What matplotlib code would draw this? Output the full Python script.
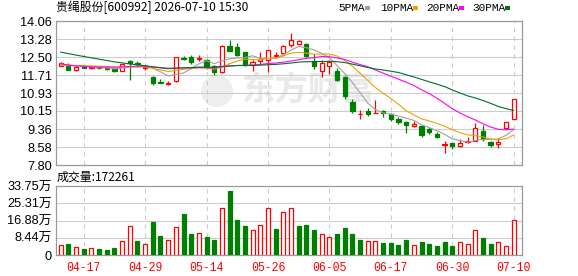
import numpy as np
import pandas as pd
import matplotlib
matplotlib.use('Agg')
import matplotlib.pyplot as plt
from matplotlib.patches import Rectangle, Ellipse

# 数据
title = '贵绳股份[600992] 2026-07-10 15:30'
vol_title = '成交量:172261'

opens = [12.12, 12.15, 11.93, 12.05, 12.02, 12.04, 12.03, 11.98, 11.90, 12.34,
         12.22, 12.03, 11.63, 11.42, 11.33, 11.45, 12.45, 12.48, 12.40, 12.38,
         12.12, 11.83, 12.99, 12.92, 12.70, 12.15, 12.30, 12.35, 12.55, 12.65,
         13.00, 13.04, 13.04, 12.31, 11.90, 12.12, 11.87, 11.63, 10.54, 10.00,
         10.15, 10.05, 10.15, 10.01, 9.82, 9.68, 9.51, 9.50, 9.36, 9.13,
         8.66, 8.77, 8.64, 8.82, 8.84, 9.27, 8.81, 8.70, 9.39, 9.79]
highs = [12.26, 12.22, 12.10, 12.08, 12.08, 12.08, 12.06, 12.00, 12.20, 12.37,
         12.30, 12.10, 11.66, 11.52, 11.45, 12.50, 12.55, 12.58, 12.57, 12.42,
         12.15, 13.00, 13.23, 13.09, 12.72, 12.36, 12.70, 12.80, 12.72, 13.00,
         13.53, 13.25, 13.10, 12.64, 12.35, 12.38, 12.00, 11.65, 10.69, 10.20,
         10.27, 10.62, 10.18, 10.08, 9.90, 9.72, 9.70, 9.56, 9.46, 9.24,
         8.85, 8.78, 8.93, 9.03, 9.63, 9.53, 8.83, 8.96, 9.66, 10.67]
lows = [12.10, 11.92, 11.90, 12.00, 11.98, 11.97, 11.95, 11.86, 11.88, 11.51,
        12.05, 11.95, 11.28, 11.35, 11.27, 11.42, 12.36, 12.20, 12.30, 11.98,
        11.72, 11.80, 12.74, 12.55, 12.12, 11.88, 12.20, 11.86, 12.45, 12.60,
        12.93, 13.00, 12.49, 11.99, 11.63, 11.77, 11.43, 10.69, 10.04, 9.82,
        9.93, 10.04, 9.87, 9.72, 9.60, 9.20, 9.45, 9.03, 9.13, 8.96,
        8.33, 8.48, 8.60, 8.74, 8.84, 8.84, 8.60, 8.52, 9.38, 9.78]
closes = [12.24, 11.95, 12.07, 12.02, 12.04, 12.00, 11.98, 11.88, 12.18, 12.24,
          12.20, 12.06, 11.37, 11.38, 11.36, 12.48, 12.42, 12.28, 12.44, 12.04,
          11.86, 12.99, 12.77, 12.58, 12.15, 12.26, 12.40, 12.78, 12.58, 12.99,
          13.22, 13.19, 12.52, 12.10, 12.23, 12.28, 11.48, 10.79, 10.14, 10.03,
          10.01, 10.08, 10.07, 9.82, 9.68, 9.53, 9.60, 9.10, 9.22, 9.03,
          8.72, 8.62, 8.74, 8.85, 9.39, 8.93, 8.67, 8.81, 9.65, 10.66]
# 成交量(万)
vols = [4.74, 5.38, 3.75, 2.93, 3.26, 2.93, 2.45, 3.42, 6.68, 14.0,
        6.85, 5.21, 16.1, 9.29, 7.17, 13.5, 20.0, 10.3, 10.6, 8.8,
        7.3, 22.8, 31.3, 17.1, 14.2, 12.1, 14.5, 22.8, 12.7, 20.9,
        22.8, 14.2, 14.7, 12.2, 10.1, 8.65, 10.3, 13.0, 10.3, 7.3,
        6.7, 6.7, 5.87, 5.87, 4.89, 7.3, 4.74, 6.36, 5.38, 4.24,
        6.36, 4.4, 6.2, 5.38, 12.1, 8.3, 5.38, 6.2, 4.4, 17.2261]
vol_up = [1, 0, 1, 0, 1, 0, 0, 0, 1, 1,
          0, 1, 0, 0, 1, 1, 0, 0, 1, 0,
          0, 1, 0, 0, 0, 1, 1, 1, 0, 1,
          1, 0, 0, 0, 1, 1, 0, 0, 0, 0,
          1, 1, 0, 0, 0, 0, 1, 0, 0, 0,
          0, 0, 1, 1, 1, 0, 0, 1, 1, 1]
# 区间之前的收盘价, 用于均线
prior_closes = [14.0, 13.95, 13.85, 13.8, 13.75, 13.7, 13.65, 13.6, 13.55, 13.45,
                13.1, 12.8, 12.5, 12.3, 12.2, 12.0, 11.9, 11.95, 12.0, 11.95,
                12.0, 12.1, 12.05, 12.15, 12.1, 12.1, 12.2, 12.16, 12.2]

ma_periods = [5, 10, 20, 30]
ma_colors = ['#a0a0a0', '#f0a000', '#ff00ff', '#006f2a']

dates = pd.bdate_range('2026-04-14', '2026-07-10')
dates = dates.drop(pd.to_datetime(['2026-05-01', '2026-05-04', '2026-05-05', '2026-06-19']))
date_labels = ['04-17', '04-29', '05-14', '05-26', '06-05', '06-17', '06-30', '07-10']

price_labels = ['7.80', '8.58', '9.36', '10.15', '10.93', '11.71', '12.50', '13.28', '14.06']
vol_labels = ['0', '8.44万', '16.88万', '25.31万', '33.75万']

RED = '#ff0000'
GREEN = '#008000'
GRID = '#cccccc'
W, H = 578, 276

def fx(px):
    return px / W

def fy(py):
    return 1 - py / H

fig = plt.figure(figsize=(5.78, 2.76), dpi=100)
ax = fig.add_axes([fx(56), fy(165), 466 / W, 144 / H])
axv = fig.add_axes([fx(56), fy(255), 466 / W, 69 / H])

x = np.arange(len(closes))
short = [d.strftime('%m-%d') for d in dates]
tick_pos = [short.index(d) for d in date_labels]

# 均线
all_c = pd.Series(prior_closes + closes)
for n, col in zip(ma_periods, ma_colors):
    ma = all_c.rolling(n).mean().values[len(prior_closes):]
    ax.plot(x, ma, color=col, lw=0.8, zorder=4)

# K线
bw = 0.55
for i in x:
    o, h, l, c = opens[i], highs[i], lows[i], closes[i]
    up = c >= o
    col = RED if up else GREEN
    ax.vlines(i, l, h, color=col, lw=0.9, zorder=2)
    bot = min(o, c)
    hgt = max(abs(c - o), 0.012)
    ax.add_patch(Rectangle((i - bw / 2, bot), bw, hgt,
                           facecolor='white' if up else GREEN,
                           edgecolor=col, lw=0.9, zorder=3))

# 成交量
face = ['white' if u else GREEN for u in vol_up]
edge = [RED if u else GREEN for u in vol_up]
axv.bar(x, vols, width=0.52, color=face, edgecolor=edge, lw=0.9, zorder=3)

pt = np.linspace(7.80, 14.06, 9)
vt = np.linspace(0, 33.75, 5)
for a, ticks, labels, lim in [(ax, pt, price_labels, (7.80, 14.06)),
                              (axv, vt, vol_labels, (0, 33.75))]:
    a.set_xlim(-0.61, 60.09)
    a.set_ylim(*lim)
    a.set_yticks(ticks)
    a.set_yticklabels(labels, family=['Liberation Sans', 'Noto Sans CJK SC'], fontsize=9.2)
    for t in ticks[1:-1]:
        a.axhline(t, color=GRID, lw=0.8, zorder=1)
    for p in tick_pos:
        a.axvline(p, color=GRID, lw=0.8, ls=(0, (4, 4)), zorder=1)
    a.tick_params(length=0, pad=3)
    for s in a.spines.values():
        s.set_color('#9a9a9a')
        s.set_linewidth(0.9)

ax.set_xticks([])
axv.set_xticks(tick_pos)
axv.set_xticklabels(date_labels, color=RED, family='Liberation Mono', fontsize=8.3)
axv.tick_params(axis='x', pad=5)

# 水印
ax.text(fx(308), fy(91), '东方财富', transform=fig.transFigure, ha='center', va='center',
        fontsize=24, fontweight='bold', color='#e9e9e9', family='Noto Sans CJK SC', zorder=0)
ax.add_patch(Ellipse((fx(217), fy(91)), 32 / W, 32 / H, transform=fig.transFigure,
                     facecolor='#eeeeee', lw=0, zorder=0))

fig.text(fx(56), fy(7.5), title, ha='left', va='center', fontsize=8.6,
         family=['Noto Sans CJK SC'])
fig.text(fx(57), fy(177.5), vol_title, ha='left', va='center', fontsize=8.6,
         family=['Noto Sans CJK SC'])

# 图例
leg_x = [338, 380, 426, 472]
for n, col, lx in zip(ma_periods, ma_colors, leg_x):
    fig.text(fx(lx), fy(8), f'{n}PMA', ha='left', va='center', fontsize=8,
             family='Liberation Mono')
    mx = lx + 6.2 * len(f'{n}PMA') + 2
    fig.add_artist(Rectangle((fx(mx), fy(9.5)), 5 / W, 3 / H, transform=fig.transFigure,
                             color=col, lw=0))

fig.savefig('out.png', dpi=100)
